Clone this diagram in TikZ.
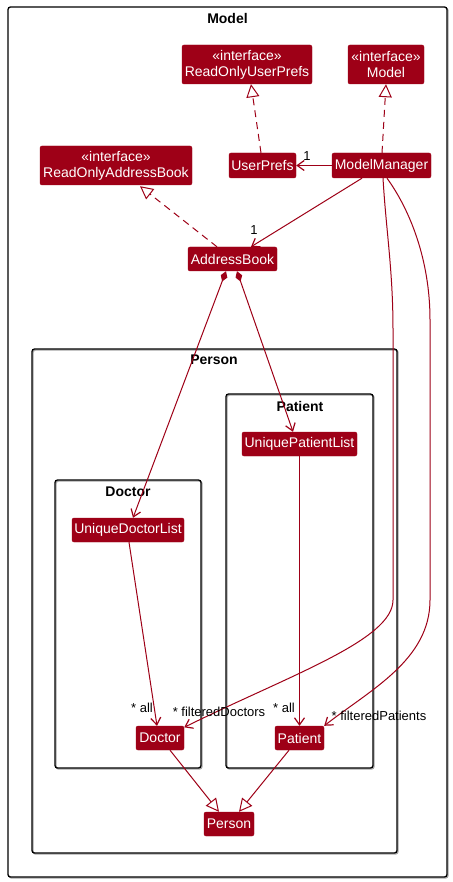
\documentclass[tikz,border=0pt]{standalone}
\usepackage{fontspec}
\setmainfont{Liberation Sans}
\usetikzlibrary{arrows.meta,calc}
\definecolor{mred}{RGB}{158,0,23}
\begin{document}
\begin{tikzpicture}[x=1pt,y=-1pt,
 cls/.style={fill=mred,draw=mred,rounded corners=2pt,text=white,font=\fontsize{14}{16}\selectfont,inner sep=0pt,align=center},
 frame/.style={draw=black,line width=1.3pt,rounded corners=2.5pt},
 fshadow/.style={draw=black!35,line width=1.3pt,rounded corners=2.5pt},
 ftitle/.style={font=\bfseries\fontsize{14}{16}\selectfont,inner sep=0pt},
 lbl/.style={font=\fontsize{13}{15}\selectfont,inner sep=0pt},
 conn/.style={draw=mred,line width=1pt},
 realize/.style={conn,dash pattern=on 7pt off 5pt,-{Triangle[open,length=13pt,width=13pt,fill=white]}},
 general/.style={conn,-{Triangle[open,length=13pt,width=13pt,fill=white]}},
 assoc/.style={conn,-{Straight Barb[length=7pt,width=10pt,line width=1.2pt]}},
 compo/.style={conn,{Diamond[length=11pt,width=7pt]}-{Straight Barb[length=7pt,width=10pt,line width=1.2pt]}}
]
\path[use as bounding box] (0,0) rectangle (452,882);
% frames
\draw[fshadow] (9,8) rectangle (448,878);
\draw[frame,fill=white] (8,7) rectangle (447,877);
\node[ftitle] (tModel) at (227.5,19) {Model};
\draw[fshadow] (33,350) rectangle (398,854);
\draw[frame] (32,349) rectangle (397,853);
\node[ftitle] (tPerson) at (214,360) {Person};
\draw[fshadow] (227,395) rectangle (374,769);
\draw[frame] (226,394) rectangle (373,768);
\node[ftitle] (tPatient) at (300,406) {Patient};
\draw[fshadow] (56,481) rectangle (202,769);
\draw[frame] (55,480) rectangle (201,768);
\node[ftitle] (tDoctor) at (128,492) {Doctor};
% classes
\node[cls,minimum width=130pt,minimum height=39pt] (RUP) at (247,64.5) {«interface»\\ReadOnlyUserPrefs};
\node[cls,minimum width=76pt,minimum height=39pt] (MI) at (386,64.5) {«interface»\\Model};
\node[cls,minimum width=152pt,minimum height=39pt] (ROAB) at (116,165.5) {«interface»\\ReadOnlyAddressBook};
\node[cls,minimum width=67pt,minimum height=25pt] (UP) at (262.5,165.5) {UserPrefs};
\node[cls,minimum width=99pt,minimum height=25pt] (MM) at (381.5,165.5) {ModelManager};
\node[cls,minimum width=89pt,minimum height=24pt] (AB) at (232.5,259) {AddressBook};
\node[cls,minimum width=115pt,minimum height=24pt] (UPL) at (299.5,444) {UniquePatientList};
\node[cls,minimum width=112pt,minimum height=24pt] (UDL) at (128,530) {UniqueDoctorList};
\node[cls,minimum width=48pt,minimum height=24pt] (Doc) at (160,738) {Doctor};
\node[cls,minimum width=49pt,minimum height=24pt] (Pat) at (299.5,738) {Patient};
\node[cls,minimum width=50pt,minimum height=24pt] (Per) at (229,824) {Person};
% connectors
\draw[realize] ($(UP.north)+(-1.5,0)$) -- ($(RUP.south)+(4,0)$);
\draw[realize] ($(MM.north)+(0.5,0)$) -- (MI.south);
\draw[realize] ($(AB.north)+(-15.5,0)$) -- ($(ROAB.south)+(24,1)$);
\draw[assoc] (MM.west) -- (UP.east);
\node[lbl] (l1) at (307,156) {1};
\draw[assoc] ($(MM.south)+(-19.5,0)$) -- ($(AB.north)+(18.5,0)$);
\node[lbl] (l2) at (254,230) {1};
\draw[compo] ($(AB.south)+(-6.5,0)$) -- ($(UDL.north)+(5,0)$);
\draw[compo] ($(AB.south)+(4.5,0)$) -- ($(UPL.north)+(-6.5,0)$);
\draw[assoc] ($(UDL.south)+(1,0)$) -- ($(Doc.north)+(-3,0)$);
\node[lbl] (l3) at (142,708) {* all};
\draw[assoc] (UPL.south) -- (Pat.north);
\node[lbl] (l4) at (284,708) {* all};
\draw[assoc] ($(MM.south)+(1.5,0)$) .. controls (386,230) and (393,270) .. (393,330) -- (393,600) .. controls (393,640) and (290,675) .. ($(Doc.north east)+(0,1.5)$);
\node[lbl] (l5) at (219,712) {* filteredDoctors};
\draw[assoc] ($(MM.south)+(5.5,0)$) .. controls (410,210) and (430,260) .. (430,320) -- (430,600) .. controls (430,660) and (370,690) .. (Pat.north east);
\node[lbl] (l6) at (379,716) {* filteredPatients};
\draw[general] ($(Doc.south)+(10,0)$) -- ($(Per.north)+(-10,0)$);
\draw[general] ($(Pat.south)+(-10.5,0)$) -- ($(Per.north)+(10,0)$);
\end{tikzpicture}
\end{document}
